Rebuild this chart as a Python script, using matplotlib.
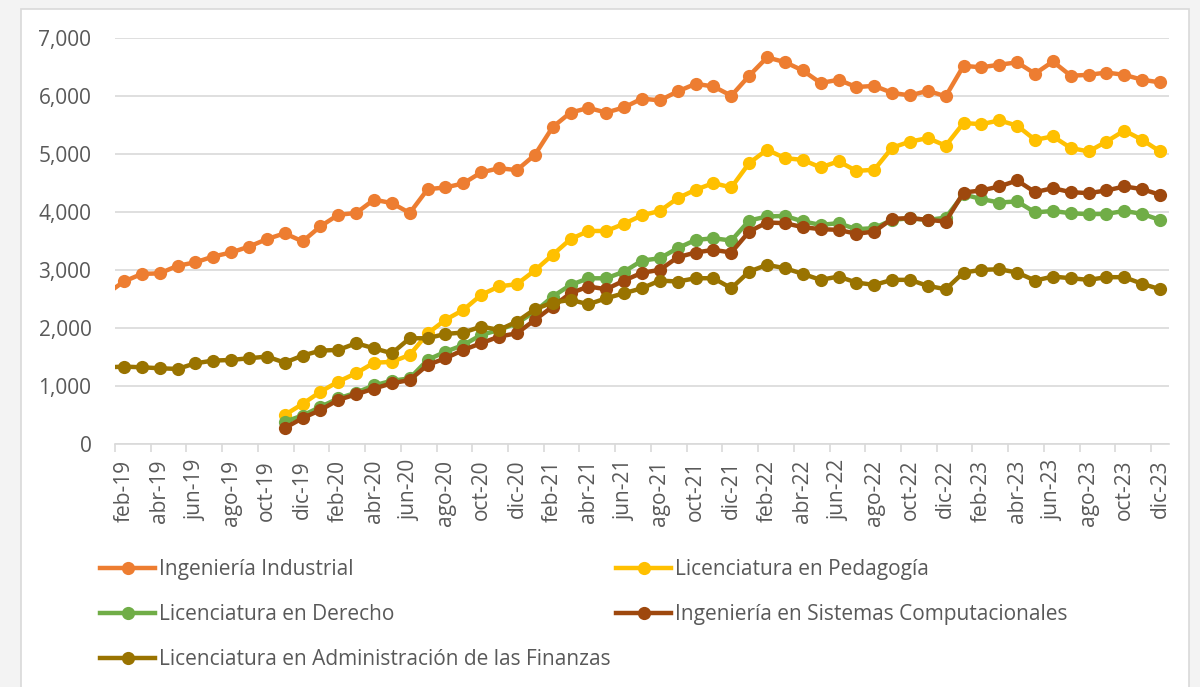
import matplotlib
matplotlib.use("Agg")
import matplotlib.pyplot as plt
import numpy as np
from matplotlib.patches import Rectangle
from matplotlib.ticker import FixedLocator, FuncFormatter

plt.rcParams['font.family'] = ['Open Sans', 'DejaVu Sans']

# ---------------- data ----------------
month_abbr = ['ene', 'feb', 'mar', 'abr', 'may', 'jun', 'jul', 'ago', 'sep', 'oct', 'nov', 'dic']
years = ['19', '20', '21', '22', '23']
months = [f"{m}-{y}" for y in years for m in month_abbr]  # ene-19 ... dic-23

N = None
ing_industrial = [2580,
                  2800, 2930, 2940, 3070, 3130, 3230, 3300, 3400, 3530, 3630, 3490, 3750, 3950, 3980, 4210,
                  4150, 3980, 4390, 4420, 4490, 4680, 4750, 4720, 4980, 5460, 5710, 5790, 5710, 5800, 5950,
                  5920, 6075, 6205, 6160, 6000, 6345, 6660, 6580, 6435, 6220, 6275, 6150, 6170, 6050,
                  6005, 6085, 5990, 6515, 6490, 6535, 6575, 6380, 6590, 6345, 6360, 6400, 6360, 6275, 6230]

lic_pedagogia = [N, N, N, N, N, N, N, N, N, N,
                 500, 690, 900, 1075, 1220, 1400,
                 1415, 1535, 1905, 2140, 2310, 2570, 2715, 2755, 2990, 3260, 3530, 3670, 3670, 3795, 3940,
                 4015, 4235, 4380, 4495, 4420, 4840, 5070, 4925, 4895, 4765, 4870, 4705, 4725, 5105,
                 5210, 5270, 5140, 5530, 5510, 5575, 5485, 5240, 5300, 5100, 5040, 5210, 5400, 5240, 5040]

lic_derecho = [N, N, N, N, N, N, N, N, N, N,
               385, 490, 640, 785, 885, 1010,
               1090, 1130, 1450, 1590, 1705, 1880, 1965, 2080, 2280, 2540, 2740, 2855, 2855, 2970, 3160,
               3200, 3375, 3515, 3545, 3505, 3850, 3920, 3930, 3835, 3775, 3805, 3700, 3720, 3860,
               3890, 3860, 3900, 4300, 4220, 4160, 4180, 3990, 4015, 3975, 3960, 3965, 4015, 3965, 3860]

ing_sistemas = [N, N, N, N, N, N, N, N, N, N,
                275, 445, 586, 760, 856, 955,
                1046, 1103, 1362, 1477, 1621, 1736, 1851, 1908, 2138, 2368, 2598, 2713, 2667, 2816, 2950,
                3000, 3218, 3299, 3345, 3299, 3661, 3816, 3805, 3736, 3701, 3690, 3621, 3661, 3880,
                3891, 3862, 3833, 4333, 4368, 4437, 4540, 4339, 4408, 4339, 4322, 4368, 4437, 4391, 4293]

lic_finanzas = [1320,
                1333, 1322, 1305, 1293, 1391, 1437, 1448, 1477, 1506, 1402, 1523, 1609, 1621, 1736, 1649,
                1563, 1822, 1822, 1897, 1920, 2023, 1966, 2109, 2322, 2437, 2483, 2408, 2511, 2598, 2684,
                2816, 2799, 2856, 2856, 2684, 2971, 3086, 3029, 2931, 2828, 2885, 2782, 2741, 2828,
                2828, 2724, 2667, 2954, 3000, 3011, 2954, 2816, 2885, 2856, 2828, 2874, 2874, 2759, 2667]

series_names = ['Ingeniería Industrial', 'Licenciatura en Pedagogía', 'Licenciatura en Derecho',
                'Ingeniería en Sistemas Computacionales', 'Licenciatura en Administración de las Finanzas']
series_values = [ing_industrial, lic_pedagogia, lic_derecho, ing_sistemas, lic_finanzas]
series_colors = ['#ED7D31', '#FFC000', '#70AD47', '#9E480E', '#997300']

# ---------------- figure ----------------
W, H = 1200, 687
fig = plt.figure(figsize=(W / 100, H / 100), dpi=100)
fig.patch.set_facecolor('#f3f3f3')
fig.add_artist(Rectangle((20.5 / W, -0.05), (1189 - 20.5) / W, 1.05 - 8.5 / H,
                         transform=fig.transFigure, facecolor='white',
                         edgecolor='#d9d9d9', linewidth=1.2, zorder=0))

left, right, top, bottom = 115, 1169, 37.7, 444
ax = fig.add_axes([left / W, 1 - bottom / H, (right - left) / W, (bottom - top) / H])
ax.set_facecolor('none')

x = np.arange(len(months))
lines = []
for name, vals, col in zip(series_names, series_values, series_colors):
    y = np.array([np.nan if v is None else v for v in vals], dtype=float)
    ln, = ax.plot(x, y, color=col, linewidth=3.2, marker='o', markersize=9.5,
                  markeredgewidth=0, label=name, solid_joinstyle='round', zorder=3)
    lines.append(ln)

ax.set_xlim(0.5, len(months) - 0.5)
ax.set_ylim(0, 7000)

# y axis
ax.set_yticks(range(0, 7001, 1000))
ax.yaxis.set_major_formatter(FuncFormatter(lambda v, p: f"{int(v):,}"))
ax.tick_params(axis='y', length=0, pad=17, labelsize=15, labelcolor='#595959')
ax.grid(axis='y', color='#d9d9d9', linewidth=1.2, zorder=0)
ax.set_axisbelow(True)

# x axis: labels every 2 months (feb, abr, ...), tick marks at category boundaries
lab_idx = list(range(1, len(months), 2))
ax.set_xticks(lab_idx)
ax.set_xticklabels([months[i] for i in lab_idx], rotation=90)
ax.tick_params(axis='x', which='major', length=0, pad=11.5, labelsize=15, labelcolor='#595959')
ax.xaxis.set_minor_locator(FixedLocator([i - 0.5 for i in lab_idx]))
ax.tick_params(axis='x', which='minor', length=5.8, width=1.2, color='#d9d9d9')

for s in ['left', 'right', 'top']:
    ax.spines[s].set_visible(False)
ax.spines['bottom'].set_color('#d9d9d9')
ax.spines['bottom'].set_linewidth(1.2)

# legend: two columns, row-major order as in the reference
common = dict(frameon=False, fontsize=15, labelcolor='#595959', handlelength=2.65,
              handletextpad=0.2, labelspacing=1.16, borderpad=0, borderaxespad=0,
              loc='upper left')
leg1 = fig.legend([lines[0], lines[2], lines[4]], [series_names[0], series_names[2], series_names[4]],
                  bbox_to_anchor=(100 / W, 1 - 559 / H), **common)
leg2 = fig.legend([lines[1], lines[3]], [series_names[1], series_names[3]],
                  bbox_to_anchor=(616 / W, 1 - 559 / H), **common)

fig.savefig('out.png', dpi=100, facecolor=fig.get_facecolor())
